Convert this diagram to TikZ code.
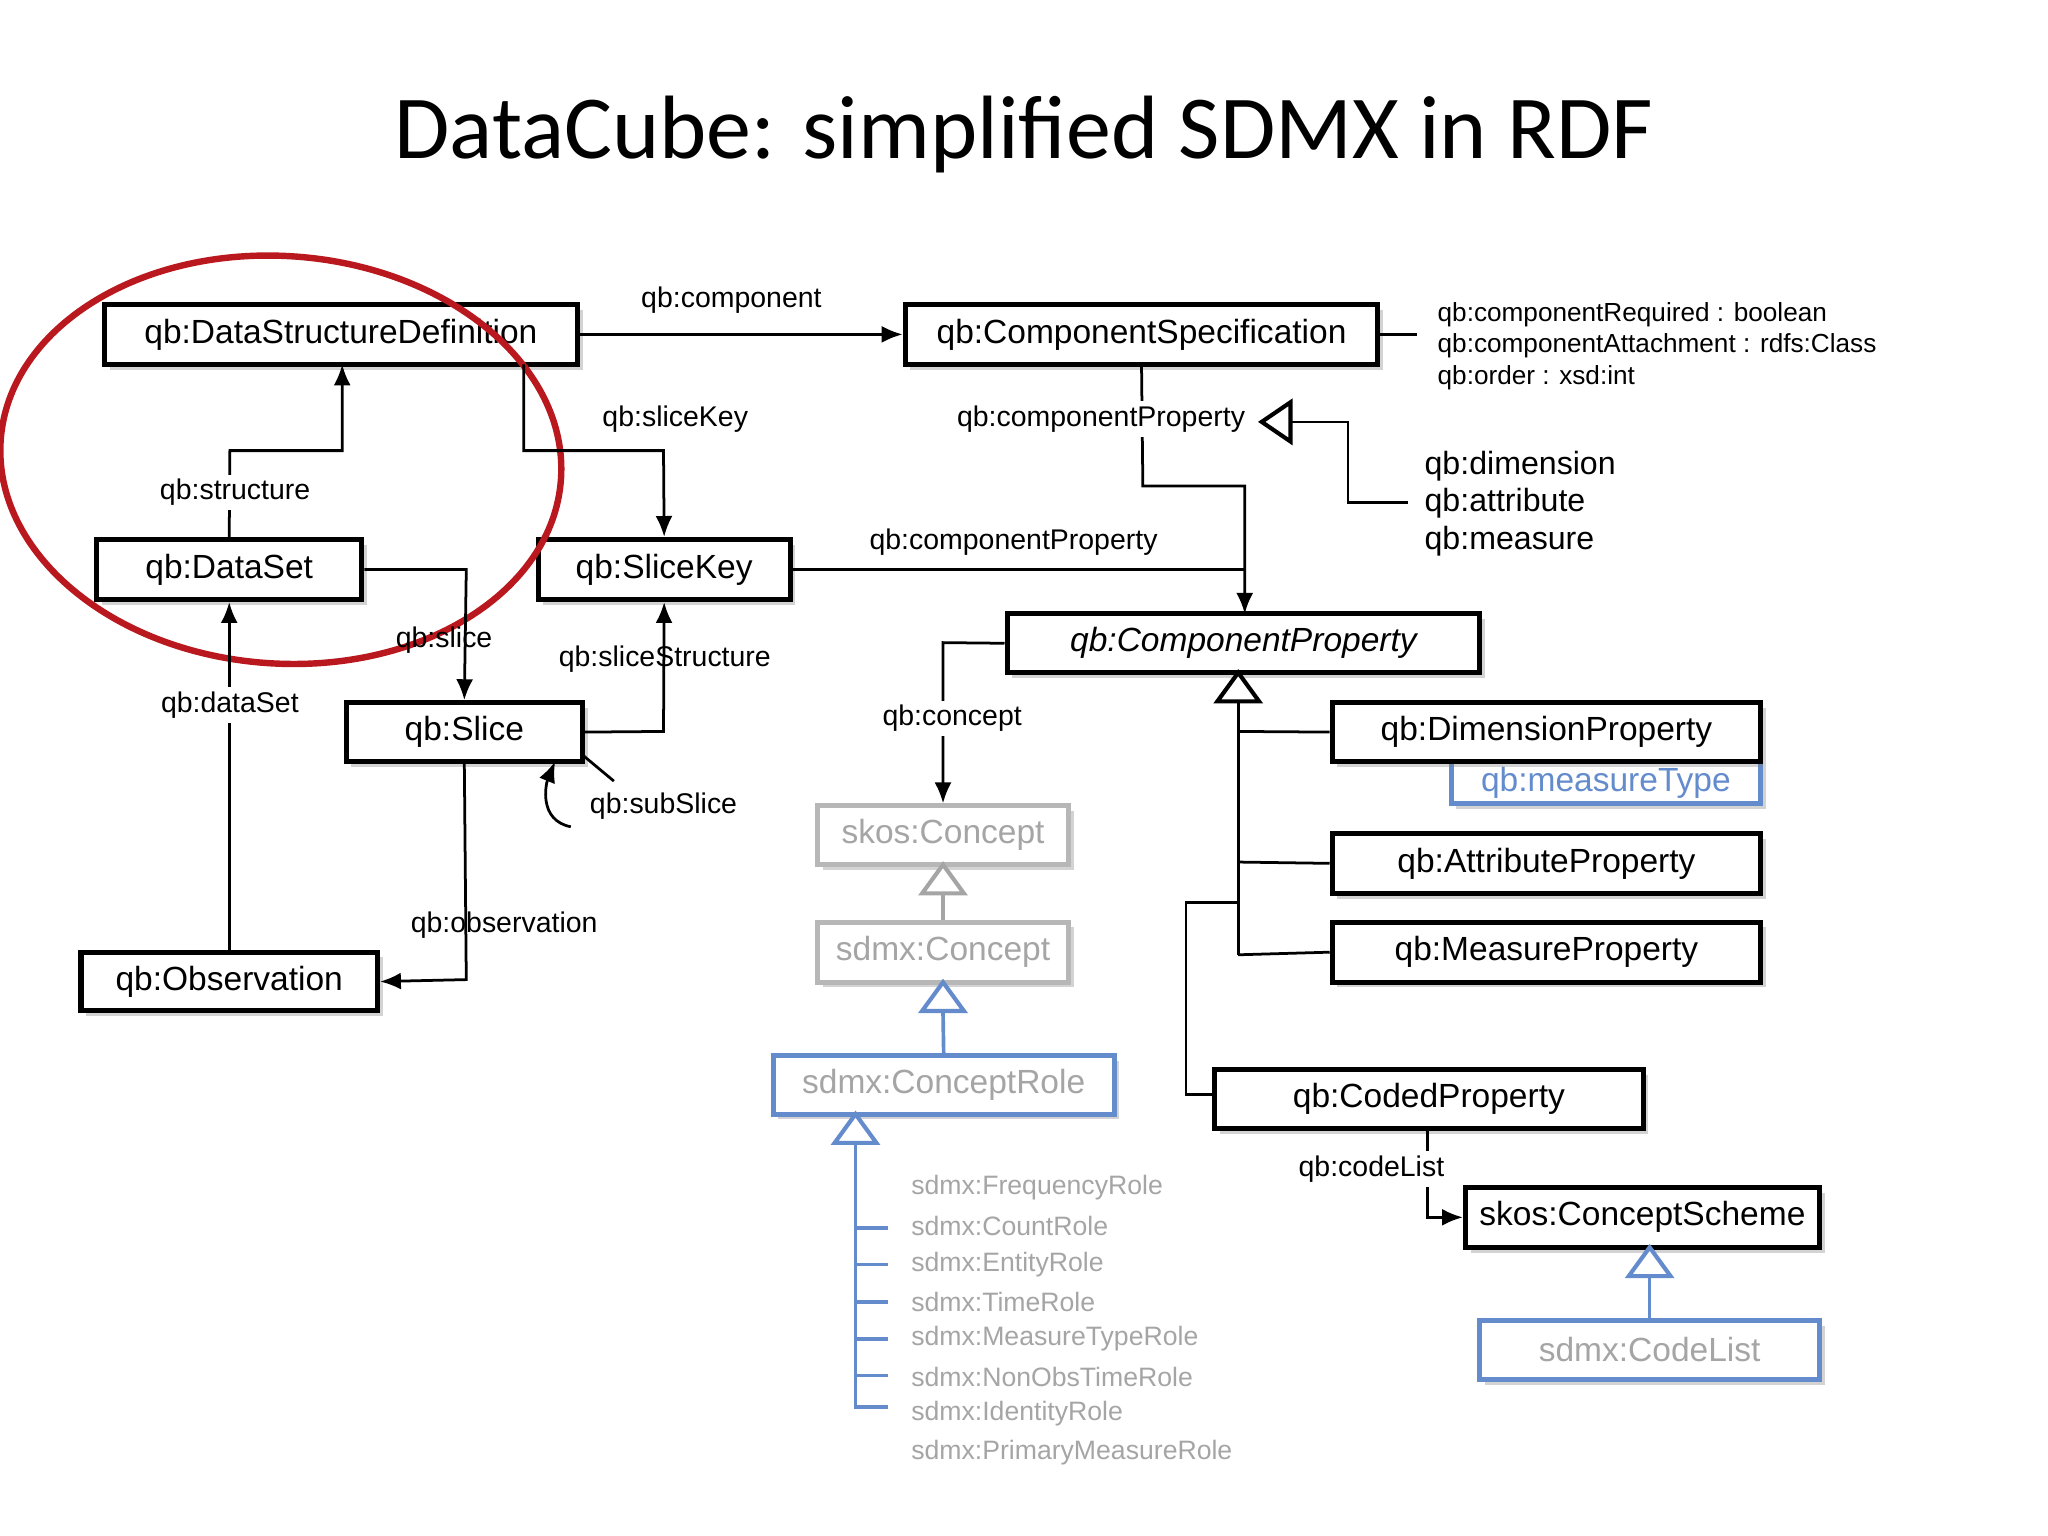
\documentclass[tikz,border=0pt]{standalone}
\usepackage{fontspec}
\setmainfont{Liberation Sans}
\newfontfamily\titlefont{Carlito}
\usetikzlibrary{arrows.meta,shadows}
\definecolor{bl}{RGB}{100,140,205}
\definecolor{gt}{RGB}{165,165,165}
\definecolor{dred}{RGB}{185,25,30}
\tikzset{
 box/.style={draw,line width=1.1pt,fill=white,inner sep=0pt,font=\fontsize{7.3}{9}\selectfont,drop shadow={shadow xshift=0.4mm,shadow yshift=-0.4mm,opacity=0.35}},
 gbox/.style={box,draw=gt!80,text=gt},
 bbox/.style={box,draw=bl,text=gt},
 lab/.style={font=\fontsize{6.2}{7}\selectfont,inner sep=1pt},
 sm/.style={font=\fontsize{5.7}{7}\selectfont,inner sep=0pt,anchor=west},
 gl/.style={font=\fontsize{5.8}{7}\selectfont,inner sep=0pt,anchor=west,text=gt},
 con/.style={line width=0.6pt},
 arr/.style={con,-{Latex[length=1.6mm,width=1.3mm]}},
}
\newcommand{\gtri}[3]{\draw[#3,line width=0.9pt,fill=white] (#1,#2) -- ++(-16,22) -- ++(32,0) -- cycle;}
\begin{document}
\begin{tikzpicture}[x=0.1mm,y=-0.1mm]
\useasboundingbox (0,0) rectangle (1568,1176);
\node[font=\titlefont\fontsize{19.6}{21}\selectfont] (title) at (784,103) {DataCube: simplified SDMX in RDF};

\node[box,minimum width=36.2mm,minimum height=4.6mm] (dsd) at (261,256) {qb:DataStructureDefinition};
\node[box,minimum width=36.2mm,minimum height=4.6mm] (cs) at (874,256) {qb:ComponentSpecification};
\node[box,minimum width=20.3mm,minimum height=4.6mm] (ds) at (175.5,436) {qb:DataSet};
\node[box,minimum width=19.3mm,minimum height=4.6mm] (sk) at (508.5,436) {qb:SliceKey};
\node[box,minimum width=18.1mm,minimum height=4.5mm] (sl) at (355.5,560.5) {qb:Slice};
\node[box,minimum width=22.7mm,minimum height=4.5mm] (ob) at (175.5,751.5) {qb:Observation};
\node[box,minimum width=36.2mm,minimum height=4.5mm,font=\fontsize{7.3}{9}\selectfont\itshape] (cp) at (952,492.5) {qb:ComponentProperty};
\node[box,draw=bl,text=bl,minimum width=23.7mm,minimum height=3.2mm] (mt) at (1229.5,599) {qb:measureType};
\node[box,minimum width=32.8mm,minimum height=4.5mm] (dim) at (1184,560.5) {qb:DimensionProperty};
\node[box,minimum width=32.8mm,minimum height=4.6mm] (att) at (1184,661) {qb:AttributeProperty};
\node[box,minimum width=32.8mm,minimum height=4.6mm] (mea) at (1184,729) {qb:MeasureProperty};
\node[box,minimum width=32.8mm,minimum height=4.5mm] (cod) at (1094,841.5) {qb:CodedProperty};
\node[box,minimum width=27.1mm,minimum height=4.6mm] (csch) at (1257.5,932) {skos:ConceptScheme};
\node[bbox,minimum width=26mm,minimum height=4.5mm] (cl) at (1263,1033.5) {sdmx:CodeList};
\node[gbox,minimum width=19.2mm,minimum height=4.5mm] (skc) at (722,639.5) {skos:Concept};
\node[gbox,minimum width=19.2mm,minimum height=4.6mm] (sdc) at (722,729) {sdmx:Concept};
\node[bbox,minimum width=26.1mm,minimum height=4.5mm] (cr) at (722.5,830.5) {sdmx:ConceptRole};

% red ellipse
\draw[dred,line width=1.4pt,rotate around={-4:(215,352)}] (215,352) ellipse [x radius=215, y radius=156];

% connectors
\draw[arr] (dsd.east) -- (cs.west);
\node[lab] (lcomp) at (560,230) {qb:component};
\draw[arr] (401,279) -- (401,345) -- (508,345) -- (sk.north);
\node[lab] (lsk) at (517,321) {qb:sliceKey};
\draw[arr] (ds.north) -- (176,345) -- (262,345) -- (262,279);
\node[lab,fill=white] (lstr) at (180,377) {qb:structure};
\draw[arr] (ds.east) -- (357,436) -- (sl.north);
\node[lab] (lsl) at (340,490) {qb:slice};
\draw[arr] (sl.east) -- (508,560) -- (sk.south);
\node[lab] (lss) at (509,505) {qb:sliceStructure};
\draw[arr] (437,633) .. controls (412,628) and (418,600) .. (425,583);
\draw[con] (446,578) -- (470,598);
\node[lab] (lsub) at (508,617) {qb:subSlice};
\draw[arr] (sl.south) -- (357,750) -- (ob.east);
\node[lab] (lobs) at (386,708) {qb:observation};
\draw[arr] (ob.north) -- (ds.south);
\node[lab,fill=white] (lds) at (176,540) {qb:dataSet};

\draw[con] (cs.east) -- (1085,256);
\node[sm] (t1) at (1100,241) {qb:componentRequired : boolean};
\node[sm] (t2) at (1100,265) {qb:componentAttachment : rdfs:Class};
\node[sm] (t3) at (1100,289) {qb:order : xsd:int};

\draw[arr] (cs.south) -- (875,372) -- (953,372) -- (953,470);
\node[lab,fill=white] (lcp) at (843,321) {qb:componentProperty};
\draw[line width=0.9pt,fill=white] (966,323) -- (988,308) -- (988,338) -- cycle;
\draw[con] (988,323) -- (1032,323) -- (1032,385) -- (1078,385);
\node[sm,font=\fontsize{7}{8}\selectfont] (d1) at (1090,357) {qb:dimension};
\node[sm,font=\fontsize{7}{8}\selectfont] (d2) at (1090,385) {qb:attribute};
\node[sm,font=\fontsize{7}{8}\selectfont] (d3) at (1090,414) {qb:measure};
\draw[con] (sk.east) -- (953,436);
\node[lab] (lcp2) at (776,415) {qb:componentProperty};

\draw[arr] (cp.west) -- (722,492) -- (skc.north);
\node[lab,fill=white] (lcon) at (729,550) {qb:concept};

\draw[con] (948,537) -- (948,731);
\draw[con] (948,560) -- (dim.west);
\draw[con] (948,660) -- (att.west);
\draw[con] (948,731) -- (mea.west);
\draw[con] (948,691) -- (908,691) -- (908,838) -- (930,838);
\gtri{948}{515}{black}

\draw[gt,line width=0.8pt] (722,684) -- (sdc.north);
\gtri{722}{662}{gt}
\draw[bl,line width=0.8pt] (722,775) -- (cr.north);
\gtri{722}{752}{bl}

\draw[bl,line width=0.8pt] (655,876) -- (655,1077) -- (680,1077);
\foreach \yy in {940,968,997,1025,1053} \draw[bl,line width=0.8pt] (655,\yy) -- (680,\yy);
\gtri{655}{853}{bl}
\node[gl] (r1) at (697,909) {sdmx:FrequencyRole};
\node[gl] (r2) at (697,939) {sdmx:CountRole};
\node[gl] (r3) at (697,968) {sdmx:EntityRole};
\node[gl] (r4) at (697,997) {sdmx:TimeRole};
\node[gl] (r5) at (697,1025) {sdmx:MeasureTypeRole};
\node[gl] (r6) at (697,1054) {sdmx:NonObsTimeRole};
\node[gl] (r7) at (697,1082) {sdmx:IdentityRole};
\node[gl] (r8) at (697,1112) {sdmx:PrimaryMeasureRole};

\draw[arr] (1093,864) -- (1093,932) -- (csch.west);
\node[lab,fill=white] (lcl) at (1050,895) {qb:codeList};
\draw[bl,line width=0.8pt] (1263,977) -- (cl.north);
\gtri{1263}{955}{bl}
\end{tikzpicture}
\end{document}
